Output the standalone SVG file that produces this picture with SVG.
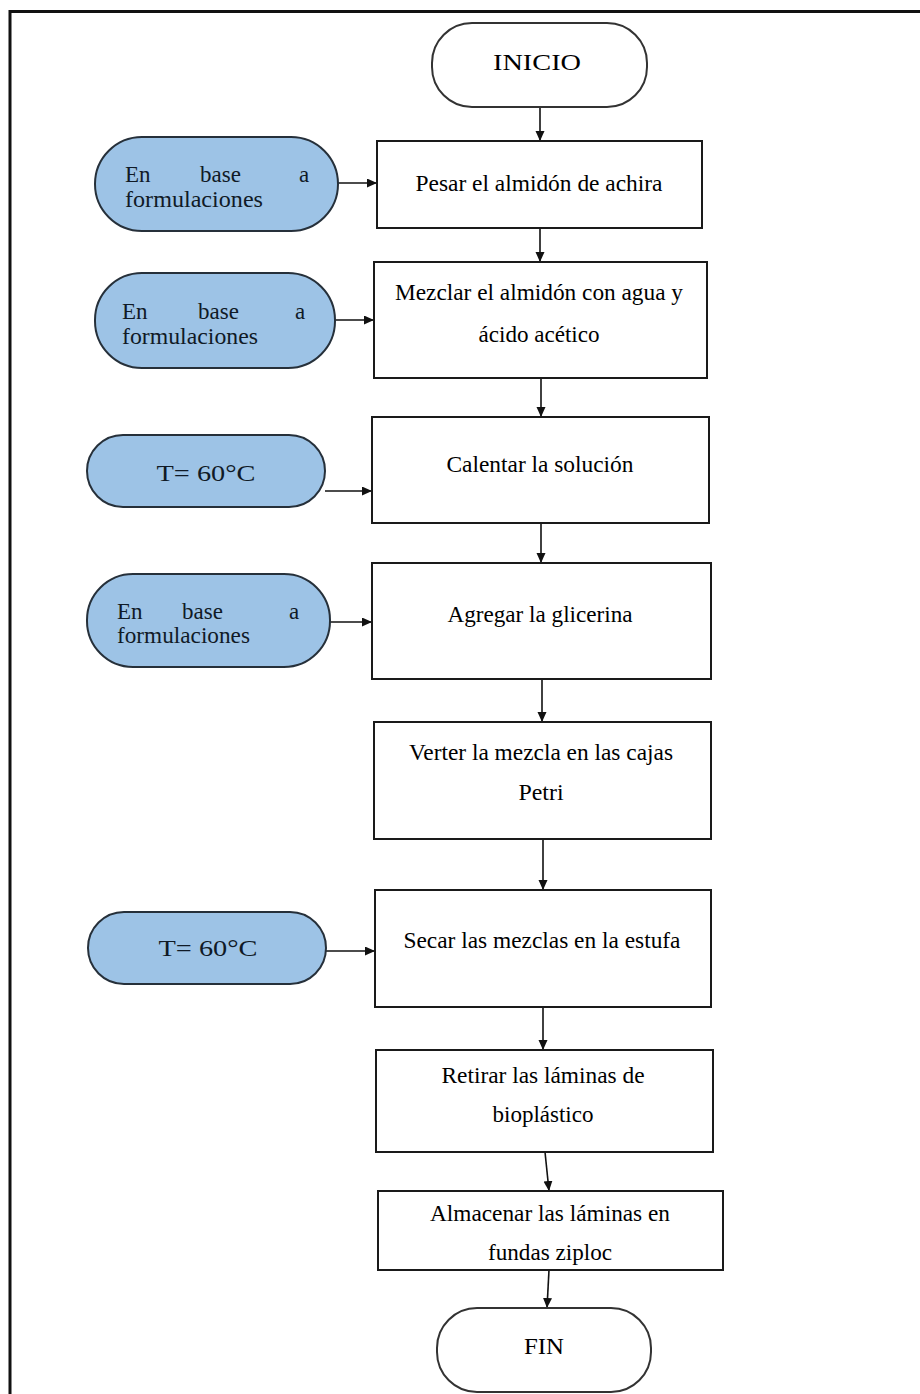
<svg xmlns="http://www.w3.org/2000/svg" width="920" height="1394" viewBox="0 0 920 1394">
<style>
.t{font-family:"Liberation Serif","Times New Roman",serif;font-size:24px;fill:#000}
.ti{font-family:"Liberation Serif","Times New Roman",serif;font-size:23px;fill:#101a26}
.box{fill:#fff;stroke:#1a1a1a;stroke-width:2}
.term{fill:#fff;stroke:#333;stroke-width:2}
.inp{fill:#9dc3e6;stroke:#26303a;stroke-width:2}
.c{fill:none;stroke:#111;stroke-width:1.6;marker-end:url(#ah)}
</style>
<defs>
<marker id="ah" markerUnits="userSpaceOnUse" markerWidth="11" markerHeight="10" refX="10" refY="4.5" orient="auto">
<path d="M0,0 L10,4.5 L0,9 z" fill="#111"/>
</marker>
</defs>
<rect width="920" height="1394" fill="#fff"/>
<path d="M10,1394 V11.5 H920" fill="none" stroke="#111" stroke-width="3"/>

<g id="connectors">
<path class="c" d="M540,107 V141"/>
<path class="c" d="M540,228 V262"/>
<path class="c" d="M541,378 V417"/>
<path class="c" d="M541,523 V563"/>
<path class="c" d="M542,679 V722"/>
<path class="c" d="M543,839 V890"/>
<path class="c" d="M543,1007 V1050"/>
<path class="c" d="M545,1152 L549,1191"/>
<path class="c" d="M549,1270 L547,1308"/>
<path class="c" d="M338,183 H377"/>
<path class="c" d="M335,320 H374"/>
<path class="c" d="M325,491 H372"/>
<path class="c" d="M330,622 H372"/>
<path class="c" d="M326,951 H375"/>
</g>

<g id="inicio">
<rect class="term" x="432" y="23" width="215" height="84" rx="40" ry="40"/>
<text class="t" x="537" y="70" text-anchor="middle" font-size="28" textLength="88" lengthAdjust="spacingAndGlyphs">INICIO</text>
</g>

<g id="in1">
<rect class="inp" x="95" y="137" width="243" height="94" rx="47" ry="47"/>
<text class="ti" x="125" y="182">En</text>
<text class="ti" x="200" y="182">base</text>
<text class="ti" x="299" y="182">a</text>
<text class="ti" x="125" y="207" textLength="138" lengthAdjust="spacingAndGlyphs">formulaciones</text>
</g>
<g id="pesar">
<rect class="box" x="377" y="141" width="325" height="87"/>
<text class="t" x="539" y="191" text-anchor="middle" textLength="247" lengthAdjust="spacingAndGlyphs">Pesar el almidón de achira</text>
</g>

<g id="in2">
<rect class="inp" x="95" y="273" width="240" height="95" rx="47" ry="47"/>
<text class="ti" x="122" y="319">En</text>
<text class="ti" x="198" y="319">base</text>
<text class="ti" x="295" y="319">a</text>
<text class="ti" x="122" y="344" textLength="136" lengthAdjust="spacingAndGlyphs">formulaciones</text>
</g>
<g id="mezclar">
<rect class="box" x="374" y="262" width="333" height="116"/>
<text class="t" x="539" y="300" text-anchor="middle" textLength="288" lengthAdjust="spacingAndGlyphs">Mezclar el almidón con agua y</text>
<text class="t" x="539" y="342" text-anchor="middle" textLength="121" lengthAdjust="spacingAndGlyphs">ácido acético</text>
</g>

<g id="in3">
<rect class="inp" x="87" y="435" width="238" height="72" rx="36" ry="36"/>
<text class="ti" x="206" y="481" text-anchor="middle" font-size="28" textLength="99" lengthAdjust="spacingAndGlyphs">T= 60°C</text>
</g>
<g id="calentar">
<rect class="box" x="372" y="417" width="337" height="106"/>
<text class="t" x="540" y="472" text-anchor="middle" textLength="187" lengthAdjust="spacingAndGlyphs">Calentar la solución</text>
</g>

<g id="in4">
<rect class="inp" x="87" y="574" width="243" height="93" rx="46" ry="46"/>
<text class="ti" x="117" y="619">En</text>
<text class="ti" x="182" y="619">base</text>
<text class="ti" x="289" y="619">a</text>
<text class="ti" x="117" y="643" textLength="133" lengthAdjust="spacingAndGlyphs">formulaciones</text>
</g>
<g id="agregar">
<rect class="box" x="372" y="563" width="339" height="116"/>
<text class="t" x="540" y="622" text-anchor="middle" textLength="185" lengthAdjust="spacingAndGlyphs">Agregar la glicerina</text>
</g>

<g id="verter">
<rect class="box" x="374" y="722" width="337" height="117"/>
<text class="t" x="541" y="760" text-anchor="middle" textLength="264" lengthAdjust="spacingAndGlyphs">Verter la mezcla en las cajas</text>
<text class="t" x="541" y="800" text-anchor="middle" textLength="45" lengthAdjust="spacingAndGlyphs">Petri</text>
</g>

<g id="in5">
<rect class="inp" x="88" y="912" width="238" height="72" rx="36" ry="36"/>
<text class="ti" x="208" y="956" text-anchor="middle" font-size="28" textLength="99" lengthAdjust="spacingAndGlyphs">T= 60°C</text>
</g>
<g id="secar">
<rect class="box" x="375" y="890" width="336" height="117"/>
<text class="t" x="542" y="948" text-anchor="middle" textLength="277" lengthAdjust="spacingAndGlyphs">Secar las mezclas en la estufa</text>
</g>

<g id="retirar">
<rect class="box" x="376" y="1050" width="337" height="102"/>
<text class="t" x="543" y="1083" text-anchor="middle" textLength="203" lengthAdjust="spacingAndGlyphs">Retirar las láminas de</text>
<text class="t" x="543" y="1122" text-anchor="middle" textLength="101" lengthAdjust="spacingAndGlyphs">bioplástico</text>
</g>

<g id="almacenar">
<rect class="box" x="378" y="1191" width="345" height="79"/>
<text class="t" x="550" y="1221" text-anchor="middle" textLength="240" lengthAdjust="spacingAndGlyphs">Almacenar las láminas en</text>
<text class="t" x="550" y="1260" text-anchor="middle" textLength="124" lengthAdjust="spacingAndGlyphs">fundas ziploc</text>
</g>

<g id="fin">
<rect class="term" x="437" y="1308" width="214" height="84" rx="40" ry="40"/>
<text class="t" x="544" y="1354" text-anchor="middle" font-size="26" textLength="40" lengthAdjust="spacingAndGlyphs">FIN</text>
</g>
</svg>
